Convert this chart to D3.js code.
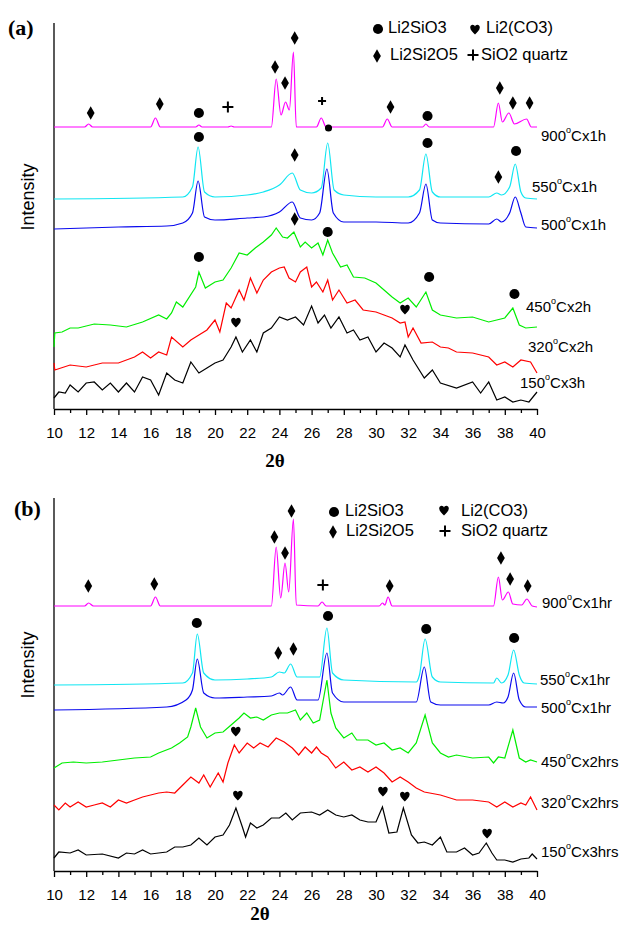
<!DOCTYPE html>
<html>
<head>
<meta charset="utf-8">
<script src="https://d3js.org/d3.v7.min.js"></script>
<style>
  body { margin: 0; background: #fff; }
  svg { display: block; font-family: "Liberation Sans", Arial, sans-serif; }
</style>
</head>
<body>
<svg width="622" height="929"></svg>
<script>
// ---- data: [2theta, intensity (a.u., stacked as plotted)] ----
// panel (a)
const a900 = [[10,282],[11.9,282],[12.15,285],[12.4,282],[16.0,282],[16.3,291],[16.6,282],[18.8,282],[19.0,284],[19.2,282],[20.8,282],[21.0,283],[21.2,282],[23.5,282],[23.8,330],[24.1,294],[24.38,307],[24.62,299],[24.87,357],[25.05,282],[26.3,282],[26.6,291],[26.9,282],[30.4,282],[30.7,290],[31.0,282],[32.9,282],[33.1,285],[33.3,282],[37.3,282],[37.6,306],[37.85,287],[38.25,296],[38.6,285],[39.35,290],[39.65,282],[40,282]];
const a550 = [[10,210],[18,212],[18.6,222],[18.95,262],[19.35,217],[20,212],[22,214],[23,217],[24,224],[24.8,236],[25.3,219],[26,216],[26.6,221],[27.0,266],[27.4,219],[28,214],[30,212],[32,212],[32.7,219],[33.1,255],[33.5,217],[34,212],[37,212],[37.5,216],[37.8,214],[38.3,222],[38.65,245],[39.0,217],[39.3,211],[40,210]];
const a500 = [[10,180],[14,182],[17,183],[18,186],[18.6,196],[18.95,228],[19.35,192],[20,189],[22,191],[23,192],[24,197],[24.8,207],[25.3,191],[26,189],[26.5,196],[26.95,240],[27.35,196],[28,187],[30,187],[32,186],[32.7,196],[33.1,225],[33.5,189],[34,186],[37,185],[37.5,190],[37.8,187],[38.3,196],[38.65,212],[39.0,196],[39.3,182],[40,181]];
const a450 = [[10,62],[10.05,76],[10.5,77],[11,81],[11.5,81],[12.5,85],[13.5,84],[14.5,82],[15.5,87],[16.5,94],[17.0,90],[17.3,96],[17.6,107],[18,102],[18.8,122],[19.0,137],[19.4,121],[20,127],[20.5,129],[21,141],[21.5,156],[22,154],[22.5,161],[23,167],[23.5,174],[23.8,181],[24.2,172],[24.5,171],[24.9,177],[25.3,162],[25.6,167],[26,161],[26.4,166],[26.7,154],[27.0,169],[27.3,156],[27.8,142],[28.2,144],[28.6,132],[29.3,131],[30,126],[30.5,119],[31,112],[31.5,106],[32,111],[32.5,102],[33.1,117],[33.5,99],[34,94],[35,91],[36,92],[37,87],[37.5,89],[38,91],[38.5,101],[38.9,84],[39.3,81],[40,82]];
const a320 = [[10,46],[10.05,39],[11,44],[12,42],[13,46],[14,46],[15,52],[15.5,57],[16,51],[16.5,57],[17,54],[17.3,72],[18,62],[18.5,69],[19,74],[19.5,79],[20,89],[20.3,77],[20.7,106],[21,101],[21.5,119],[21.8,109],[22.2,131],[22.6,116],[23,129],[23.5,137],[24,141],[24.3,142],[24.6,131],[25.0,127],[25.3,137],[25.7,142],[26.0,122],[26.3,127],[26.7,117],[27.0,129],[27.3,109],[27.7,119],[28.2,106],[28.7,109],[29.2,99],[30,97],[30.5,94],[31,91],[31.5,86],[31.8,87],[32,72],[32.3,81],[32.8,66],[33.5,67],[34,62],[34.5,61],[35,57],[36,56],[37,52],[37.5,44],[38,47],[38.5,42],[39,49],[39.6,47],[40,36]];
const a150 = [[10,11],[10.3,17],[10.7,16],[11,24],[11.5,17],[12,26],[12.5,27],[13,19],[13.5,26],[14,17],[14.5,26],[15,17],[15.5,32],[16,29],[16.5,14],[17,36],[17.5,29],[18,26],[18.5,47],[19,36],[19.5,41],[20,46],[20.5,49],[21,62],[21.3,72],[21.7,57],[22.2,69],[22.6,57],[23,76],[23.5,81],[24,92],[24.5,89],[25,92],[25.5,84],[26.0,103],[26.4,86],[26.8,94],[27.2,81],[27.7,92],[28.2,76],[28.6,79],[29.0,69],[29.5,72],[30,57],[30.5,66],[31,61],[31.5,52],[31.8,64],[32.3,49],[33,31],[33.5,39],[34,26],[35,21],[36,27],[36.5,16],[37,27],[37.5,9],[38,12],[38.5,7],[39,9],[39.5,7],[40,17]];

// panel (b)
const b900 = [[10,265],[11.9,265],[12.15,268],[12.45,265],[16.0,265],[16.3,274],[16.6,265],[23.5,265],[23.8,324],[24.08,273],[24.35,308],[24.58,279],[24.87,352],[25.05,266],[26.4,265],[26.65,269],[26.9,265],[30.2,265],[30.4,268],[30.55,266],[30.75,274],[31.0,265],[37.3,265],[37.6,294],[37.85,271],[38.22,279],[38.5,267],[39.05,266],[39.37,272],[39.7,265],[40,264]];
const b550 = [[10,186],[18,188],[18.6,198],[18.9,237],[19.3,198],[20,191],[22,192],[23.5,194],[24.0,199],[24.3,198],[24.7,207],[25.1,194],[26.5,194],[26.95,243],[27.3,198],[28,191],[32.5,189],[32.7,196],[33.05,232],[33.5,194],[34,189],[37.3,188],[37.5,193],[37.8,188],[38.2,196],[38.55,221],[38.9,196],[39.2,188],[40,187]];
const b500 = [[10,161],[17,164],[18.2,171],[18.6,181],[18.9,212],[19.3,178],[20,173],[22,174],[23.5,175],[24.0,178],[24.2,176],[24.7,184],[25.1,171],[26.4,171],[26.95,218],[27.3,178],[28,169],[32.5,169],[33.0,204],[33.4,169],[34,166],[37,166],[37.5,169],[37.9,168],[38.2,174],[38.55,198],[38.9,171],[39.3,164],[40,164]];
const b450 = [[10,103],[10.5,108],[11.2,109],[12,108],[13,109],[14,111],[15,113],[16,114],[16.5,118],[17.3,123],[17.8,128],[18.3,134],[18.5,144],[18.8,163],[19.1,144],[19.5,133],[20,138],[20.5,139],[21,146],[21.5,153],[21.8,158],[22.2,153],[22.6,154],[23,151],[23.5,156],[24,158],[24.5,158],[25,161],[25.3,151],[25.7,158],[26.1,148],[26.5,151],[26.95,191],[27.2,158],[27.5,143],[28,133],[28.5,138],[28.8,131],[29.5,131],[30,126],[30.5,128],[31,121],[31.5,123],[32,118],[32.5,128],[33.05,156],[33.5,128],[34,118],[34.5,114],[35,116],[36,113],[37,114],[37.3,108],[37.6,114],[38,113],[38.5,141],[38.9,113],[39.3,109],[39.6,111],[40,109]];
const b320 = [[10,66],[10.3,61],[10.7,68],[11,64],[11.5,69],[12,64],[12.5,66],[13,68],[13.5,64],[14,71],[14.5,68],[15,71],[15.5,74],[16,76],[16.5,78],[17,79],[17.5,78],[18,86],[18.5,94],[19,88],[19.3,96],[19.7,84],[20.2,98],[20.5,89],[20.8,108],[21.2,126],[21.5,118],[22,128],[22.4,123],[22.8,128],[23.3,124],[23.8,133],[24.3,129],[24.8,123],[25.2,116],[25.6,124],[26,118],[26.3,124],[26.6,118],[27,114],[27.5,103],[28,109],[28.5,101],[29,104],[29.5,99],[30,104],[30.5,98],[31,89],[31.5,94],[32,89],[32.5,83],[33,79],[34,76],[35,71],[36,71],[37,69],[37.5,64],[38,69],[38.5,64],[39,68],[39.3,66],[39.6,74],[40,61]];
const b150 = [[10,13],[10.3,19],[11,18],[11.5,21],[12,16],[13,17],[14,13],[14.5,18],[15,17],[15.5,21],[16,17],[17,19],[17.5,24],[18,24],[18.5,26],[19,33],[19.5,26],[20,34],[20.5,36],[20.9,46],[21.3,63],[21.7,44],[21.9,34],[22.2,48],[22.6,43],[23,46],[23.5,53],[24,53],[24.4,58],[24.8,51],[25.3,58],[26,59],[26.5,56],[27,61],[27.5,56],[28,54],[28.5,56],[29,51],[29.5,49],[30,49],[30.4,64],[30.8,38],[31.3,39],[31.7,63],[32.2,36],[32.6,28],[33,29],[33.5,26],[34,34],[34.4,19],[35,19],[35.5,23],[36,16],[36.4,18],[36.85,28],[37.2,18],[37.5,11],[38,11],[38.5,9],[39,12],[39.5,13],[39.7,17],[40,12]];

// series labels and colours
const labelsA = ["900", "550", "500", "450", "320", "150"];
const suffixA = ["Cx1h", "Cx1h", "Cx1h", "Cx2h", "Cx2h", "Cx3h"];
const suffixB = ["Cx1hr", "Cx1hr", "Cx1hr", "Cx2hrs", "Cx2hrs", "Cx3hrs"];
const colors = ["#ff00ff", "#10e6f2", "#0a0aee", "#00ee00", "#ff0000", "#000000"];

// phase markers: [2theta, intensity]
const aCircles = [[19.0,296],[33.2,293],[19.0,272],[33.2,266],[38.7,258],[19.0,152],[27.0,177],[33.3,132],[38.6,115]];
const aSmallCircles = [[27.05,281]];
const aDiamonds = [[12.28,296],[16.57,305],[23.73,342],[24.35,326],[24.95,371],[30.9,302],[37.69,321],[38.5,306],[39.54,306],[24.95,254],[37.6,232],[24.95,190]];
const aPlus = [[20.8,302]];
const aSmallPlus = [[26.65,308]];
const aHearts = [[21.3,86],[31.8,99]];

const bCircles = [[18.87,248],[27.02,255],[33.12,242],[38.58,233]];
const bDiamonds = [[12.13,285],[16.23,287],[23.69,334],[24.35,318],[24.75,360],[30.85,285],[37.76,313],[38.33,292],[39.42,285],[23.93,218],[24.87,222]];
const bPlus = [[26.7,286]];
const bHearts = [[21.29,139],[21.42,75],[30.43,79],[31.79,74],[36.9,37]];

const xTicks = d3.range(10, 41, 1);

const svg = d3.select("svg");

const heartPath = "M0,4.5 C-1.8,2.6 -4.8,0.2 -4.8,-2.4 C-4.8,-4.2 -3.6,-5.2 -2.4,-5.2 C-1.2,-5.2 -0.3,-4.4 0,-3.4 C0.3,-4.4 1.2,-5.2 2.4,-5.2 C3.6,-5.2 4.8,-4.2 4.8,-2.4 C4.8,0.2 1.8,2.6 0,4.5 Z";

function degLabel(g, x, y, num, suffix) {
    const t = g.append("text").attr("x", x).attr("y", y)
        .attr("dominant-baseline", "middle")
        .attr("font-size", 15).attr("fill", "#000");
    t.append("tspan").text(num);
    t.append("tspan").attr("font-size", 9).attr("dy", -6).text("o");
    t.append("tspan").attr("dy", 6).text(suffix);
}

function drawPanel(p) {
    const x = d3.scaleLinear().domain([10, 40]).range([54, 537]);
    const y = d3.scaleLinear().domain([0, p.top - p.yMin]).range([p.bottom, p.yMin]);
    const g = svg.append("g");

    // axes
    const xAxis = d3.axisBottom(x)
        .tickValues(xTicks)
        .tickSizeOuter(0)
        .tickFormat(d => d % 2 === 0 ? d : "");
    const ax = g.append("g").attr("transform", `translate(0,${p.bottom})`).call(xAxis);
    ax.select(".domain").attr("stroke", "#000").attr("stroke-width", 1.3);
    ax.selectAll(".tick line")
        .attr("y2", d => d % 2 === 0 ? 6 : 4)
        .attr("stroke-width", 1.3);
    ax.selectAll(".tick text")
        .attr("y", 18)
        .attr("font-size", 15)
        .attr("font-family", "Liberation Sans, Arial, sans-serif");

    g.append("line")
        .attr("x1", x(10)).attr("x2", x(10))
        .attr("y1", y.range()[1]).attr("y2", p.bottom)
        .attr("stroke", "#000").attr("stroke-width", 1.3);

    // patterns
    const crystal = d3.line().x(d => x(d[0])).y(d => y(d[1])).curve(d3.curveMonotoneX);
    const noisy = d3.line().x(d => x(d[0])).y(d => y(d[1]));
    p.series.forEach((s, i) => {
        g.append("path")
            .datum(s)
            .attr("fill", "none")
            .attr("stroke", colors[i])
            .attr("stroke-width", 1.2)
            .attr("d", i < 3 ? crystal(s) : noisy(s));
    });

    // series labels
    p.labelPos.forEach((lp, i) => degLabel(g, lp[0], lp[1], labelsA[i], p.suffix[i]));

    // markers
    const circ = d3.symbol(d3.symbolCircle, 80);
    const circS = d3.symbol(d3.symbolCircle, 40);
    const diam = d3.symbol(d3.symbolDiamond, 52);
    const mk = (data, path, cls) => g.selectAll(null).data(data).enter().append("path")
        .attr("d", path)
        .attr("transform", d => `translate(${x(d[0])},${y(d[1])})`)
        .attr("fill", cls === "plus" ? "none" : "#000")
        .attr("stroke", cls === "plus" ? "#000" : "none")
        .attr("stroke-width", 2);
    mk(p.circles, circ);
    if (p.smallCircles) mk(p.smallCircles, circS);
    mk(p.diamonds, diam);
    mk(p.hearts, heartPath);
    mk(p.plus, "M-5.5,0H5.5M0,-5.5V5.5", "plus");
    if (p.smallPlus) mk(p.smallPlus, "M-4,0H4M0,-4V4", "plus");

    // legend
    const lg = g.append("g").attr("font-size", 16.5);
    const L = p.legend;
    lg.append("path").attr("d", circ()).attr("transform", `translate(${L.c[0]},${L.c[1]})`);
    lg.append("text").attr("x", L.ct[0]).attr("y", L.c[1]).attr("dominant-baseline", "middle").text("Li2SiO3");
    lg.append("path").attr("d", heartPath).attr("transform", `translate(${L.h[0]},${L.h[1]})`);
    lg.append("text").attr("x", L.ht[0]).attr("y", L.c[1]).attr("dominant-baseline", "middle").text("Li2(CO3)");
    lg.append("path").attr("d", diam()).attr("transform", `translate(${L.d[0]},${L.d[1]})`);
    lg.append("text").attr("x", L.dt[0]).attr("y", L.d[1]).attr("dominant-baseline", "middle").text("Li2Si2O5");
    lg.append("path").attr("d", "M-5.5,0H5.5M0,-5.5V5.5").attr("stroke", "#000").attr("stroke-width", 2)
        .attr("transform", `translate(${L.p[0]},${L.p[1]})`);
    lg.append("text").attr("x", L.pt[0]).attr("y", L.d[1]).attr("dominant-baseline", "middle").text("SiO2 quartz");

    // panel letter, axis titles
    g.append("text").attr("x", p.letterPos[0]).attr("y", p.letterPos[1])
        .attr("font-family", "Liberation Serif, Times New Roman, serif")
        .attr("font-weight", "bold").attr("font-size", 22).text(p.letter);
    g.append("text")
        .attr("transform", `translate(34,${p.intensityY}) rotate(-90)`)
        .attr("text-anchor", "middle").attr("font-size", 18).text("Intensity");
    g.append("text").attr("x", p.thetaX).attr("y", p.thetaY)
        .attr("text-anchor", "middle")
        .attr("font-family", "Liberation Serif, Times New Roman, serif")
        .attr("font-weight", "bold").attr("font-size", 19).text("2θ");
}

drawPanel({
    letter: "(a)", letterPos: [8, 35],
    bottom: 409, yMin: 23, top: 409,
    series: [a900, a550, a500, a450, a320, a150],
    suffix: suffixA,
    labelPos: [[541, 137], [532, 188], [541, 226], [526, 308], [528, 348], [520, 384]],
    circles: aCircles, smallCircles: aSmallCircles, diamonds: aDiamonds,
    hearts: aHearts, plus: aPlus, smallPlus: aSmallPlus,
    legend: { c: [378, 29], ct: [388], h: [475, 30], ht: [486], d: [377, 56], dt: [390], p: [473, 55], pt: [481] },
    intensityY: 197, thetaX: 275, thetaY: 467
});

drawPanel({
    letter: "(b)", letterPos: [14, 516],
    bottom: 871, yMin: 498, top: 871,
    series: [b900, b550, b500, b450, b320, b150],
    suffix: suffixB,
    labelPos: [[542, 604], [540, 681], [541, 709], [541, 763], [541, 804], [541, 853]],
    circles: bCircles, diamonds: bDiamonds, hearts: bHearts, plus: bPlus,
    legend: { c: [334, 512], ct: [345], h: [444, 511], ht: [461], d: [333, 532], dt: [346], p: [445, 531], pt: [461] },
    intensityY: 665, thetaX: 260, thetaY: 920
});
</script>
</body>
</html>
